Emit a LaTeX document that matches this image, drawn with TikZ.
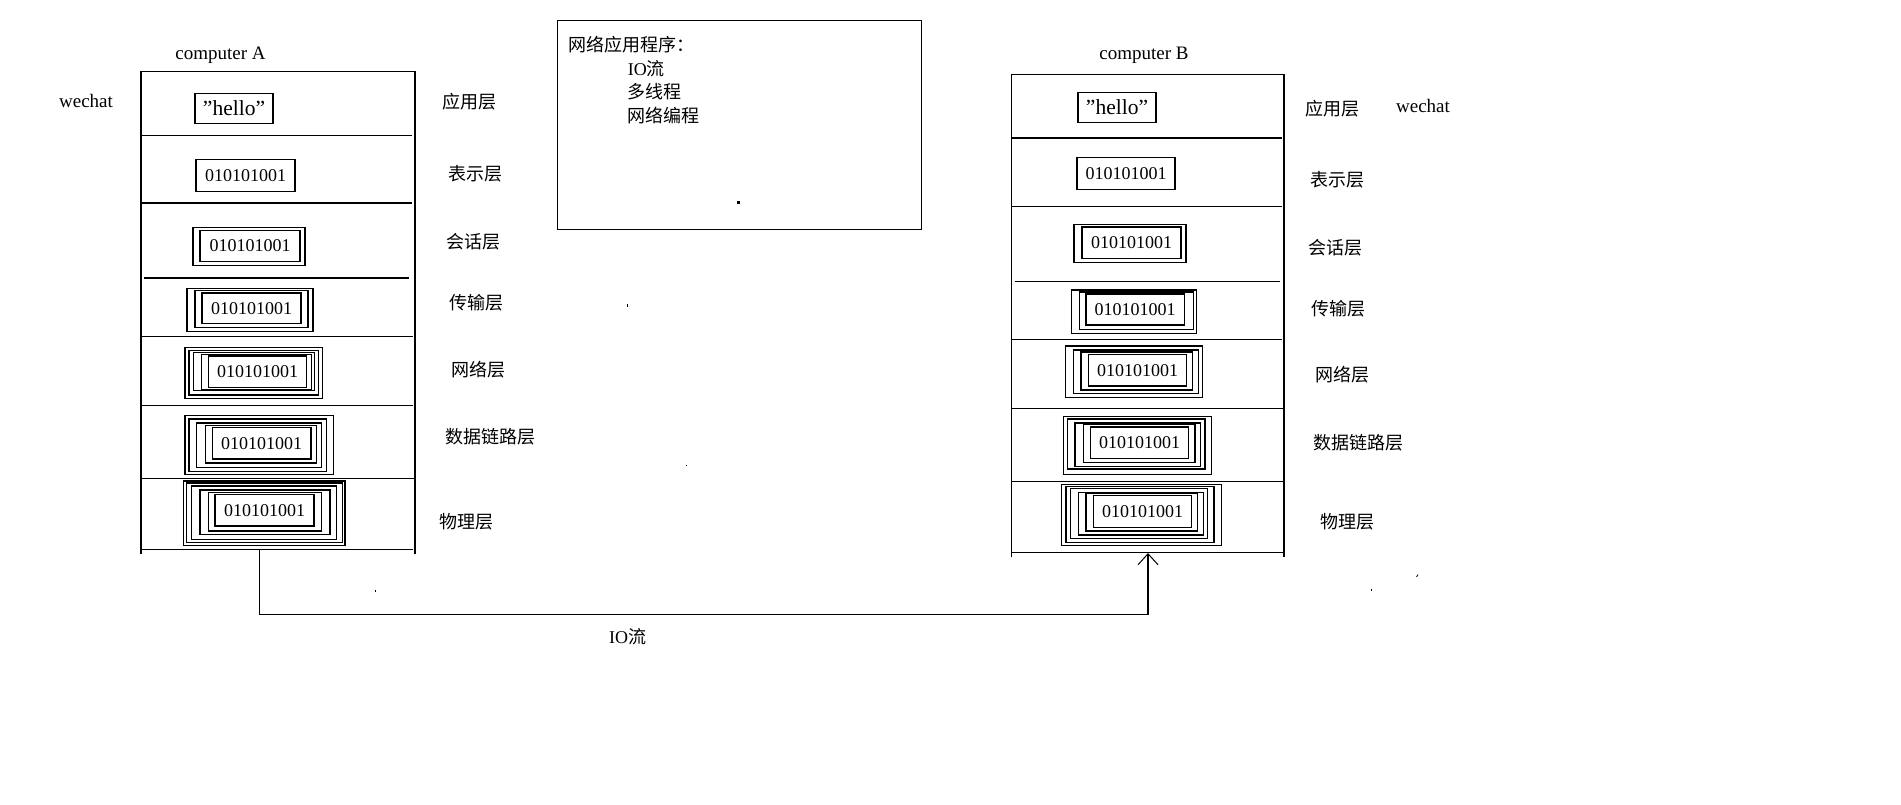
\documentclass[tikz,border=0pt]{standalone}
\usepackage{fontspec}
\setmainfont{Liberation Serif}
\newfontfamily\cjk{Noto Sans CJK SC}
\usetikzlibrary{arrows.meta}
\begin{document}
\begin{tikzpicture}[x=1pt,y=-1pt,line width=1.2pt,
  lay/.style={font=\cjk\fontsize{18}{20}\selectfont,inner sep=0},
  lat/.style={font=\fontsize{19}{22}\selectfont,inner sep=0},
  hel/.style={font=\fontsize{21.5}{24}\selectfont,inner sep=0},
  bits/.style={font=\fontsize{18}{20}\selectfont,inner sep=0}]
\useasboundingbox[fill=white] (0,0) rectangle (1901,804);

% ---------- computer A stack ----------
\draw (141,554.3) -- (141,71.3) -- (415,71.3) -- (415,554.3);
\foreach \y/\a/\b in {135.3/141/412,203/141/412,278/144/409,336.3/140/413,405.3/141/413,478.3/141/415,549.3/141/413}
  \draw (\a,\y) -- (\b,\y);
% layer boxes A
\draw (195,93.3) rectangle (273,123.3);
\draw (196,159.3) rectangle (295,191.3);
\draw (193,227.3) rectangle (305,265.3);
\draw (200,230.3) rectangle (300,261.7);
\draw (187,288.3) rectangle (313,331.7);
\draw (195,290.8) rectangle (308,327.3);
\draw (202,293) rectangle (301,323.3);
\draw (185,347.3) rectangle (322.3,398.3);
\draw (189,350.7) rectangle (318.3,395);
\draw (193.3,352.7) rectangle (314.3,390.7);
\draw (201.7,354.2) rectangle (311.7,389.3);
\draw (208.3,356) rectangle (306.7,387.7);
\draw (185,415.3) rectangle (333.3,474.7);
\draw (189,419) rectangle (326.7,471.3);
\draw (196.7,423) rectangle (321.7,467.3);
\draw (205.7,425.3) rectangle (316.7,463);
\draw (212.3,427.5) rectangle (311,459);
\draw (183.3,481) rectangle (345,545.3);
\draw (186.7,483) rectangle (342.7,542.7);
\draw (191.7,486) rectangle (336.7,539.3);
\draw (200,490) rectangle (330,534.3);
\draw (208.3,492.2) rectangle (321.7,531);
\draw (215,494.5) rectangle (314,526);

\node[lat] (compA) at (220.5,55) {computer A};
\node[lat] (wechatA) at (86,101) {wechat};
\node[hel] (helloA) at (234,108.3) {”hello”};
\node[bits] (presA) at (245.5,175.3) {010101001};
\node[bits] (sessA) at (250,246) {010101001};
\node[bits] (tranA) at (251.5,308.2) {010101001};
\node[bits] (netA) at (257.5,371.8) {010101001};
\node[bits] (dlA) at (261.7,443.2) {010101001};
\node[bits] (phyA) at (264.5,510.2) {010101001};

\node[lay] (lA1) at (469.5,102) {应用层};
\node[lay] (lA2) at (475.5,174) {表示层};
\node[lay] (lA3) at (473,241.7) {会话层};
\node[lay] (lA4) at (476,302.7) {传输层};
\node[lay] (lA5) at (478.5,369.3) {网络层};
\node[lay] (lA6) at (490.5,436.7) {数据链路层};
\node[lay] (lA7) at (466.5,521.7) {物理层};

% ---------- computer B stack ----------
\draw (1011.5,557.3) -- (1011.5,74.3) -- (1284,74.3) -- (1284,557.3);
\foreach \y/\a/\b in {138/1011.5/1282,206.3/1011.5/1282,281.3/1014.5/1279.5,339.3/1011.5/1282,408.3/1011.5/1284,481.7/1011.5/1284,552.3/1011.5/1284}
  \draw (\a,\y) -- (\b,\y);
\draw (1078,92.3) rectangle (1156,122.3);
\draw (1077,157.3) rectangle (1175,189.3);
\draw (1074,224.3) rectangle (1186,262.3);
\draw (1082,227) rectangle (1181,258.3);
\draw (1071.7,290) rectangle (1196.7,333.3);
\draw (1079.3,292) rectangle (1193.3,329.3);
\draw (1086,294) rectangle (1184.3,325);
\draw (1065.7,346) rectangle (1202.7,397.3);
\draw (1073.3,350) rectangle (1198.3,393.3);
\draw (1081,352) rectangle (1192.7,390);
\draw (1088.3,354.5) rectangle (1186.7,386);
\draw (1063.3,416.7) rectangle (1211.7,474.3);
\draw (1067.3,419) rectangle (1205,469);
\draw (1075,423) rectangle (1200.7,466.7);
\draw (1083.3,424.8) rectangle (1195,462.3);
\draw (1090.7,427) rectangle (1188.3,458.3);
\draw (1061.7,484.3) rectangle (1221.7,545.7);
\draw (1066,486.2) rectangle (1214,542.3);
\draw (1070.7,488.5) rectangle (1207.3,538.3);
\draw (1078.3,492.3) rectangle (1203.3,535);
\draw (1086,493.8) rectangle (1197.3,531);
\draw (1093.3,495.5) rectangle (1191.7,527.3);

\node[lat] (compB) at (1144,55) {computer B};
\node[lat] (wechatB) at (1423,106) {wechat};
\node[hel] (helloB) at (1117,107.3) {”hello”};
\node[bits] (presB) at (1126,173.3) {010101001};
\node[bits] (sessB) at (1131.5,242.6) {010101001};
\node[bits] (tranB) at (1135.2,309.5) {010101001};
\node[bits] (netB) at (1137.5,370.2) {010101001};
\node[bits] (dlB) at (1139.5,442.6) {010101001};
\node[bits] (phyB) at (1142.5,511.4) {010101001};

\node[lay] (lB1) at (1332,108.3) {应用层};
\node[lay] (lB2) at (1337,180) {表示层};
\node[lay] (lB3) at (1335.5,247.7) {会话层};
\node[lay] (lB4) at (1338.5,308.3) {传输层};
\node[lay] (lB5) at (1342,375) {网络层};
\node[lay] (lB6) at (1358,442.7) {数据链路层};
\node[lay] (lB7) at (1347,521.7) {物理层};

% ---------- note box ----------
\node[draw,anchor=north west,minimum width=364pt,minimum height=209pt,inner sep=0] (note) at (556.7,20) {};
\node[lay,anchor=west] (n0) at (567.7,45) {网络应用程序：};
\node[lay,anchor=west] (n1) at (627.3,68.3) {{\rmfamily IO}流};
\node[lay,anchor=west] (n2) at (627.3,91.7) {多线程};
\node[lay,anchor=west] (n3) at (627.3,115.5) {网络编程};

% ---------- stray marks ----------
\fill (737,201) rectangle ++(2.5,2.5);
\fill (626.5,303.5) rectangle ++(1.2,3);
\fill (685.5,464.5) rectangle ++(1.5,1.5);
\fill (374.5,590) rectangle ++(1.5,1.5);
\fill (1370.5,589) rectangle ++(1.5,1.5);
\draw[line width=0.8pt] (1416.5,577) -- (1418,574.5);

% ---------- IO stream connector ----------
\coordinate (aout) at (259.5,549.3);
\coordinate (bin) at (1148,553);
\draw[-{Straight Barb[length=11pt,width=20pt,line width=1pt]}] (aout) -- ++(0,65) -| (bin);
\node[lay] (io) at (627.5,636.7) {{\rmfamily IO}流};
\end{tikzpicture}
\end{document}
